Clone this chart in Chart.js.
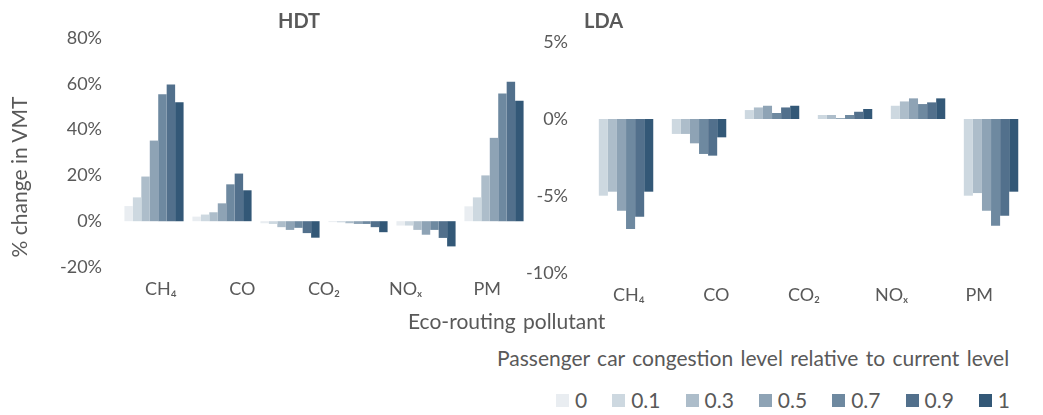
<!DOCTYPE html>
<html>
<head>
<meta charset="utf-8">
<script src="https://cdn.jsdelivr.net/npm/chart.js@4"></script>
<style>
  body { margin: 0; background: #fff; font-family: Lato, "Open Sans", sans-serif; color: #595959; }
  #wrap { position: relative; width: 1043px; height: 415px; overflow: hidden; }
  canvas { position: absolute; top: 0; }
  #hdtCanvas { left: 0; }
  #ldaCanvas { left: 480px; }
  .ttl { position: absolute; font-weight: bold; font-size: 20px; line-height: 24px; }
  #yTitle { position: absolute; left: -71px; top: 165px; width: 180px; text-align: center;
            font-size: 21px; line-height: 24px; transform: rotate(-90deg); }
  #xTitle { position: absolute; left: 408px; top: 309px; font-size: 21px; line-height: 24px; word-spacing: 2px; }
  #legTitle { position: absolute; left: 497px; top: 346px; font-size: 21px; line-height: 24px; word-spacing: 2px; white-space: nowrap; }
  #legend { position: absolute; left: 556px; top: 388px; display: flex; font-size: 21px; line-height: 24px; }
  #legend .item { display: flex; align-items: center; margin-right: 25px; }
  #legend .box { width: 13px; height: 13px; margin-right: 6px; }
</style>
</head>
<body>
<div id="wrap">
  <canvas id="hdtCanvas" width="540" height="310"></canvas>
  <canvas id="ldaCanvas" width="563" height="310"></canvas>
  <div class="ttl" style="left:278px;top:8px">HDT</div>
  <div class="ttl" style="left:584px;top:8px">LDA</div>
  <div id="yTitle">% change in VMT</div>
  <div id="xTitle">Eco-routing pollutant</div>
  <div id="legTitle">Passenger car congestion level relative to current level</div>
  <div id="legend"></div>
</div>
<script>
// bar groups (6 groups) and the 5 pollutant labels printed under them
const groups = ["g1", "g2", "g3", "g4", "g5", "g6"];
const pollutants = ["CH\u2084", "CO", "CO\u2082", "NO\u2093", "PM"];

const levels = ["0", "0.1", "0.3", "0.5", "0.7", "0.9", "1"];
const colors = ["#e9edf1", "#cdd8e0", "#adbdca", "#8ea3b5", "#6e89a0", "#52708c", "#335877"];

// HDT, % change in VMT, one array per congestion level
const hdt0 = [6.6, 2.0, -0.9, -0.4, -1.9, 6.5];
const hdt01 = [10.4, 2.9, -1.2, -0.5, -1.9, 10.4];
const hdt03 = [19.5, 3.9, -2.6, -0.9, -3.8, 20.0];
const hdt05 = [35.2, 7.8, -3.8, -1.2, -5.9, 36.4];
const hdt07 = [55.4, 16.1, -2.9, -1.2, -3.8, 55.8];
const hdt09 = [59.7, 20.8, -5.2, -2.6, -7.3, 60.9];
const hdt1 = [51.9, 13.5, -7.2, -4.8, -11.0, 52.6];

// LDA
const lda0 = [0, 0, 0, 0, 0, 0];
const lda01 = [-4.98, -0.97, 0.58, 0.26, 0.86, -4.98];
const lda03 = [-4.72, -0.97, 0.75, 0.26, 1.14, -4.81];
const lda05 = [-5.95, -1.58, 0.86, 0.06, 1.34, -5.95];
const lda07 = [-7.14, -2.27, 0.39, 0.26, 0.97, -6.93];
const lda09 = [-6.34, -2.38, 0.75, 0.47, 1.08, -6.28];
const lda1 = [-4.72, -1.19, 0.86, 0.65, 1.34, -4.72];

const hdtTicks = { min: -20, max: 80, step: 20 };
const ldaTicks = { min: -10, max: 5, step: 5 };

const FONT = "Lato, 'Open Sans', sans-serif";
const GREY = "#595959";

function makeDatasets(series) {
  return series.map((vals, i) => ({
    label: levels[i],
    data: vals,
    backgroundColor: colors[i],
    borderWidth: 0,
    categoryPercentage: 0.87,
    barPercentage: 1.0,
    xAxisID: "x",
  }));
}

function makeChart(canvasId, series, t, o) {
  return new Chart(document.getElementById(canvasId), {
    type: "bar",
    data: { labels: groups, datasets: makeDatasets(series) },
    options: {
      responsive: false,
      animation: false,
      layout: { padding: { top: o.top, right: o.right, left: 0, bottom: 0 } },
      plugins: { legend: { display: false }, tooltip: { enabled: false } },
      scales: {
        x: { type: "category", labels: groups, offset: true, display: false },
        x2: {
          type: "category",
          labels: pollutants,
          offset: true,
          position: "bottom",
          grid: { display: false, drawTicks: false },
          border: { display: false },
          ticks: { color: GREY, font: { family: FONT, size: 18 }, padding: 11 },
          afterFit: (s) => { s.height = o.xh; },
        },
        y: {
          min: t.min,
          max: t.max,
          grid: { display: false, drawTicks: false },
          border: { display: false },
          ticks: {
            stepSize: t.step,
            color: GREY,
            font: { family: FONT, size: 18 },
            padding: o.tpad,
            callback: (v) => v + "%",
          },
          afterFit: (s) => { s.width = o.yw; },
        },
      },
    },
  });
}

makeChart("hdtCanvas", [hdt0, hdt01, hdt03, hdt05, hdt07, hdt09, hdt1], hdtTicks,
  { top: 38, right: 12, xh: 43, yw: 120, tpad: 18 });
makeChart("ldaCanvas", [lda0, lda01, lda03, lda05, lda07, lda09, lda1], ldaTicks,
  { top: 42, right: 20, xh: 37, yw: 105, tpad: 17 });

// shared legend
const legend = document.getElementById("legend");
levels.forEach((lv, i) => {
  const item = document.createElement("div");
  item.className = "item";
  item.innerHTML = `<span class="box" style="background:${colors[i]}"></span><span>${lv}</span>`;
  legend.appendChild(item);
});
</script>
</body>
</html>
